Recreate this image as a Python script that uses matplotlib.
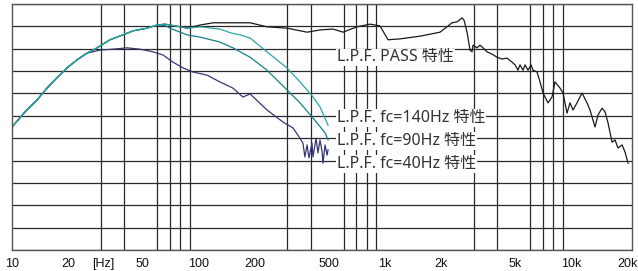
import numpy as np
import matplotlib.pyplot as plt
from matplotlib.ticker import NullFormatter

plt.rcParams['font.family'] = ['Liberation Sans', 'DejaVu Sans']

# shared rising part (all four curves)
rise_hz = [10, 11, 12, 13.6, 15.4, 17.4, 19.7, 22.3]
rise_db = [72.5, 74.5, 76.3, 78.5, 81.2, 83.5, 85.7, 87.5]
# shared part for PASS / 140Hz / 90Hz
mid_hz = [25.2, 28.6, 33.5, 39.4, 44.6, 53, 60]
mid_db = [89.0, 90.2, 92.0, 93.1, 94.0, 94.6, 95.3]

pass_hz = [66.1, 70.3, 79.6, 86.8, 102, 120, 167, 189, 233, 298, 382, 448, 526, 596,
           708, 831, 940, 1038, 1203, 1413, 1540, 1972, 2150, 2287, 2433, 2588, 2653,
           2753, 2856, 2928, 2964, 3114, 3232, 3354, 3524, 3748, 3986, 4240, 4510, 4798,
           4979, 5166, 5296, 5496, 5634, 5846, 6067, 6219, 6531, 6778, 7034, 7210, 7482,
           7861, 8157, 8676, 9004, 9459, 9818, 10186, 10702, 11387, 12106, 12564, 13366,
           13871, 14574, 15124, 15695, 16490, 17114, 17759, 18661, 19364, 20094]
pass_db = [95.5, 95.3, 94.9, 94.6, 95.3, 95.8, 95.8, 95.8, 94.9, 94.6, 93.7, 94.2, 94.4, 93.7,
           94.9, 95.5, 95.1, 92.0, 92.2, 92.6, 92.8, 93.7, 94.9, 95.8, 96.0, 96.9, 96.4,
           93.7, 89.7, 89.3, 90.8, 90.2, 90.8, 90.2, 89.3, 88.8, 88.1, 87.7, 87.9, 87.0,
           86.4, 85.2, 86.4, 85.2, 86.4, 85.2, 86.4, 85.2, 84.8, 82.6, 80.1, 79.2, 77.9,
           79.2, 82.6, 81.2, 80.1, 75.6, 77.9, 76.3, 77.9, 80.1, 77.9, 76.3, 72.5,
           75.2, 76.7, 75.9, 73.4, 69.1, 69.6, 67.8, 68.5, 66.9, 64.4]

fc140_hz = [66.1, 70.3, 79.6, 86.8, 102, 130, 150, 167, 189, 233, 298, 350, 411, 448, 495]
fc140_db = [95.5, 95.3, 94.9, 94.6, 94.9, 94.4, 93.5, 93.1, 92.4, 89.3, 85.7, 82.6, 79.2, 77.0, 72.9]

fc90_hz = [66.1, 70.3, 86.8, 102, 130, 153, 189, 233, 298, 350, 411, 477, 495]
fc90_db = [95.2, 94.6, 93.1, 92.6, 91.5, 90.2, 88.1, 85.2, 80.8, 77.9, 74.5, 71.2, 69.6]

fc40_hz = [25.2, 29.6, 34.8, 41.4, 48.6, 57.0, 64.5, 73.0, 82.6, 93.4, 111, 130, 153, 173,
           189, 233, 284, 321, 350, 363, 372, 382, 391, 406, 411, 427, 437, 448, 460, 465,
           477, 489, 495]
fc40_db = [89.0, 89.7, 89.9, 90.2, 89.9, 89.3, 88.6, 87.0, 85.7, 84.8, 84.1, 82.6, 81.2, 79.2,
           79.9, 76.3, 73.6, 72.3, 70.0, 68.9, 65.8, 68.5, 65.6, 68.9, 65.8, 70.0, 66.7, 69.6,
           66.9, 64.4, 68.5, 66.2, 67.4]

tick_hz = [10, 20, 31, 50, 100, 200, 500, 1000, 2000, 5000, 10000, 20000]
tick_labels = ['10', '20', '[Hz]', '50', '100', '200', '500', '1k', '2k', '5k', '10k', '20k']

labels = ['L.P.F. PASS 特性', 'L.P.F. fc=140Hz 特性', 'L.P.F. fc=90Hz 特性', 'L.P.F. fc=40Hz 特性']
label_db = [88.1, 74.5, 69.4, 64.2]

fig = plt.figure(figsize=(6.38, 2.71), dpi=100)
ax = fig.add_axes([12/638, 21/271, 620/638, 246/271])
ax.set_xscale('log')
ax.set_xlim(10, 21100)
ax.set_ylim(45, 100)

grid_hz = [m * 10**e for e in range(1, 4) for m in range(1, 10)] + [10000, 20000]
ax.set_xticks(grid_hz, minor=True)
ax.xaxis.set_minor_formatter(NullFormatter())
ax.set_xticks(tick_hz)
ax.set_xticklabels(tick_labels)
ax.set_yticks(np.arange(45, 101, 5))
ax.set_yticklabels([])
ax.tick_params(which='both', length=0)
ax.tick_params(axis='x', pad=6, labelsize=9, colors='#111')
ax.grid(True, which='minor', axis='x', color='#2a2a2a', lw=0.9)
ax.grid(True, which='major', axis='y', color='#2a2a2a', lw=0.9)
ax.grid(False, which='major', axis='x')
for s in ax.spines.values():
    s.set_color('#555')
    s.set_linewidth(1)

ax.plot(rise_hz + mid_hz + pass_hz, rise_db + mid_db + pass_db, color='#1a1a1a', lw=0.9)
ax.plot(rise_hz + fc40_hz, rise_db + fc40_db, color='#363676', lw=0.9)
ax.plot(rise_hz + mid_hz + fc90_hz, rise_db + mid_db + fc90_db, color='#178088', lw=0.9)
ax.plot(rise_hz + mid_hz + fc140_hz, rise_db + mid_db + fc140_db, color='#2aa6a6', lw=0.9)

for txt, yv in zip(labels, label_db):
    ax.text(553, yv, txt, ha='left', va='center', fontsize=11.5, color='#333',
            family=['Noto Sans', 'Noto Sans CJK JP'],
            bbox=dict(facecolor='white', edgecolor='none', pad=0.5), zorder=3)

fig.savefig('out.png', dpi=100)
